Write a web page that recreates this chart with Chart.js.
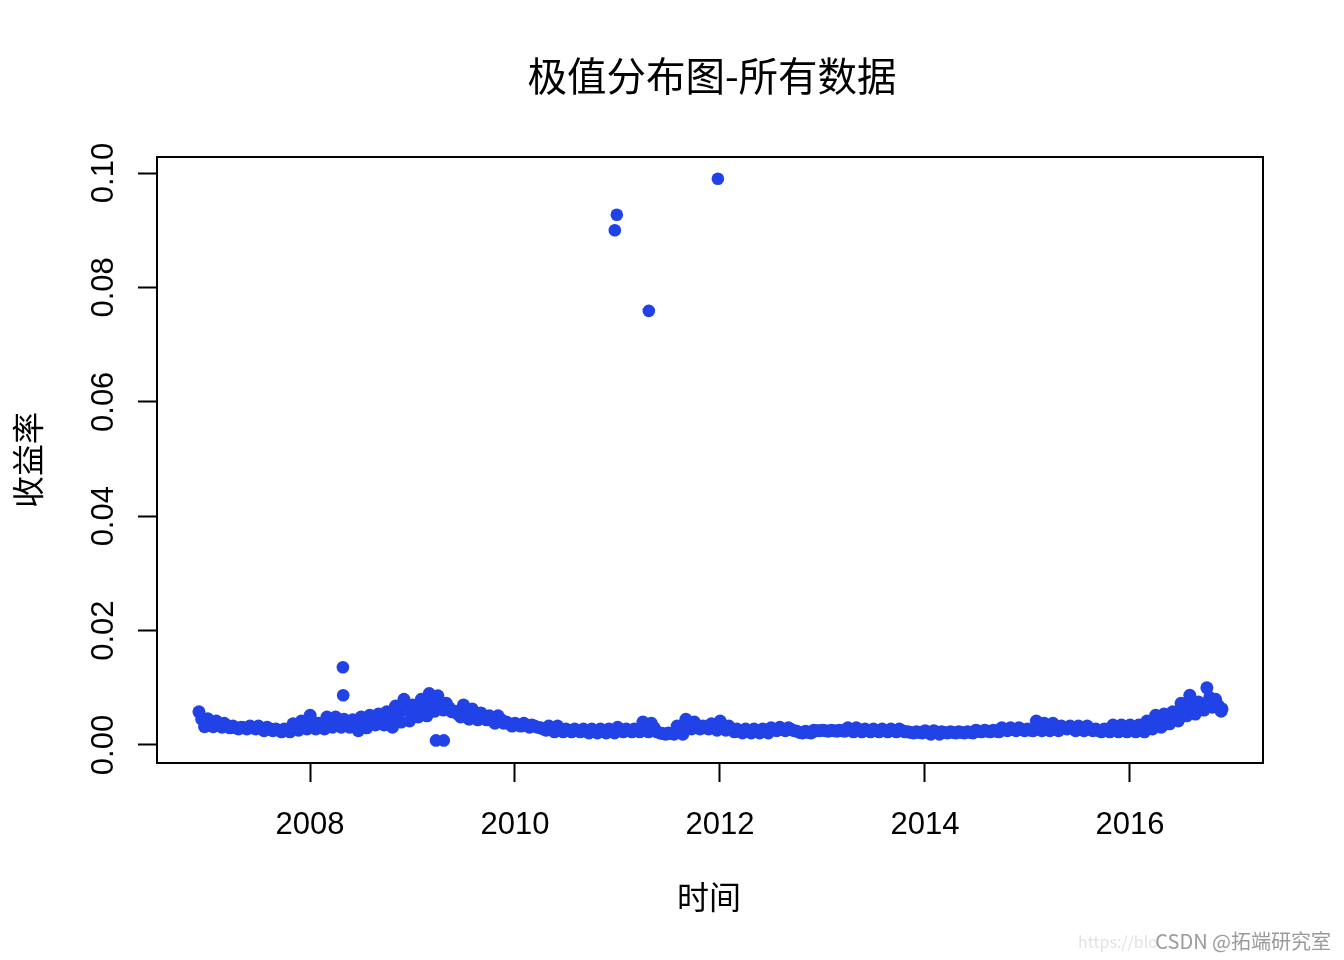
<!DOCTYPE html>
<html>
<head>
<meta charset="utf-8">
<script src="https://cdn.jsdelivr.net/npm/chart.js@4.4.1/dist/chart.umd.min.js"></script>
<style>
  html, body { margin: 0; padding: 0; background: #fff; }
  #wrap { width: 1344px; height: 960px; }
</style>
</head>
<body>
<div id="wrap"><canvas id="myChart" width="1344" height="960"></canvas></div>
<script>
/* Texts and axes */
const titleText = "极值分布图-所有数据";
const xTitle = "时间";
const yTitle = "收益率";
const xTicks = [2008, 2010, 2012, 2014, 2016];
const xTickLabels = ["2008", "2010", "2012", "2014", "2016"];
const yTicks = [0, 0.02, 0.04, 0.06, 0.08, 0.1];
const yTickLabels = ["0.00", "0.02", "0.04", "0.06", "0.08", "0.10"];

/* Monthly band readings, Dec 2006 .. Nov 2016 (top / centre / bottom of the dense band) */
const firstMonth = [2006, 12];
const bandTop = [
  0.0058, 0.0046, 0.0042, 0.0038, 0.0033, 0.0031, 0.0033, 0.0033, 0.0031, 0.0028, 0.0028, 0.0037,
  0.0042, 0.0052, 0.0038, 0.0049, 0.0049, 0.0045, 0.0044, 0.0049, 0.0052, 0.0054, 0.0058, 0.0068,
  0.0080, 0.0070, 0.0080, 0.0090, 0.0086, 0.0073, 0.0059, 0.0070, 0.0063, 0.0056, 0.0051, 0.0051,
  0.0040, 0.0038, 0.0038, 0.0035, 0.0030, 0.0033, 0.0033, 0.0028, 0.0028, 0.0028, 0.0028, 0.0028,
  0.0028, 0.0031, 0.0028, 0.0028, 0.0040, 0.0038, 0.0021, 0.0021, 0.0033, 0.0045, 0.0040, 0.0033,
  0.0037, 0.0042, 0.0033, 0.0028, 0.0028, 0.0028, 0.0028, 0.0030, 0.0031, 0.0030, 0.0024, 0.0024,
  0.0026, 0.0026, 0.0026, 0.0026, 0.0030, 0.0030, 0.0028, 0.0028, 0.0028, 0.0028, 0.0028, 0.0023,
  0.0023, 0.0025, 0.0025, 0.0023, 0.0023, 0.0023, 0.0023, 0.0026, 0.0026, 0.0026, 0.0030, 0.0030,
  0.0030, 0.0028, 0.0042, 0.0038, 0.0038, 0.0033, 0.0033, 0.0033, 0.0033, 0.0028, 0.0028, 0.0035,
  0.0035, 0.0035, 0.0035, 0.0042, 0.0052, 0.0054, 0.0058, 0.0073, 0.0087, 0.0075, 0.0100, 0.0080
];
const bandMid = [
  0.0045, 0.0039, 0.0036, 0.0034, 0.0030, 0.0030, 0.0030, 0.0029, 0.0028, 0.0026, 0.0026, 0.0031,
  0.0035, 0.0040, 0.0033, 0.0040, 0.0040, 0.0038, 0.0035, 0.0039, 0.0043, 0.0045, 0.0044, 0.0054,
  0.0061, 0.0060, 0.0065, 0.0074, 0.0073, 0.0065, 0.0054, 0.0057, 0.0053, 0.0050, 0.0045, 0.0045,
  0.0037, 0.0035, 0.0034, 0.0033, 0.0028, 0.0028, 0.0028, 0.0025, 0.0025, 0.0024, 0.0024, 0.0024,
  0.0024, 0.0027, 0.0025, 0.0025, 0.0030, 0.0030, 0.0020, 0.0020, 0.0026, 0.0036, 0.0034, 0.0030,
  0.0031, 0.0034, 0.0028, 0.0024, 0.0024, 0.0024, 0.0024, 0.0027, 0.0028, 0.0027, 0.0022, 0.0022,
  0.0025, 0.0025, 0.0025, 0.0025, 0.0026, 0.0026, 0.0025, 0.0025, 0.0025, 0.0025, 0.0025, 0.0022,
  0.0022, 0.0022, 0.0022, 0.0022, 0.0022, 0.0022, 0.0022, 0.0024, 0.0024, 0.0024, 0.0027, 0.0027,
  0.0027, 0.0026, 0.0032, 0.0031, 0.0031, 0.0030, 0.0029, 0.0029, 0.0029, 0.0025, 0.0025, 0.0028,
  0.0028, 0.0028, 0.0028, 0.0034, 0.0041, 0.0045, 0.0050, 0.0062, 0.0070, 0.0068, 0.0083, 0.0069
];
const bandLow = [
  0.0032, 0.0032, 0.0031, 0.0030, 0.0028, 0.0028, 0.0028, 0.0025, 0.0025, 0.0023, 0.0023, 0.0026,
  0.0028, 0.0028, 0.0028, 0.0031, 0.0031, 0.0031, 0.0025, 0.0030, 0.0035, 0.0035, 0.0031, 0.0040,
  0.0042, 0.0049, 0.0051, 0.0059, 0.0061, 0.0058, 0.0049, 0.0045, 0.0044, 0.0044, 0.0038, 0.0038,
  0.0033, 0.0033, 0.0031, 0.0031, 0.0026, 0.0023, 0.0023, 0.0023, 0.0023, 0.0021, 0.0021, 0.0021,
  0.0021, 0.0023, 0.0023, 0.0023, 0.0023, 0.0023, 0.0019, 0.0019, 0.0019, 0.0028, 0.0028, 0.0028,
  0.0026, 0.0026, 0.0023, 0.0021, 0.0021, 0.0021, 0.0021, 0.0025, 0.0025, 0.0025, 0.0021, 0.0021,
  0.0025, 0.0024, 0.0024, 0.0024, 0.0023, 0.0023, 0.0023, 0.0023, 0.0023, 0.0023, 0.0023, 0.0021,
  0.0021, 0.0019, 0.0019, 0.0021, 0.0021, 0.0021, 0.0021, 0.0023, 0.0023, 0.0023, 0.0025, 0.0025,
  0.0025, 0.0025, 0.0025, 0.0025, 0.0025, 0.0028, 0.0025, 0.0025, 0.0025, 0.0023, 0.0023, 0.0023,
  0.0023, 0.0023, 0.0023, 0.0028, 0.0031, 0.0037, 0.0042, 0.0051, 0.0054, 0.0061, 0.0066, 0.0059
];
const tailDates = ["2016-11-24"];
const tailValues = [0.0063];

/* Isolated extreme points */
const outlierDates = ["2008-04-27", "2008-04-28", "2009-03-25", "2009-04-22",
                      "2010-12-22", "2010-12-29", "2011-04-22", "2011-12-24"];
const outlierValues = [0.0136, 0.0087, 0.0008, 0.0008, 0.0900, 0.0927, 0.0759, 0.0990];

const dotColor = "#2142e6";

/* date -> decimal year */
const toYear = (y, m, d) => {
  const t0 = Date.UTC(y, 0, 1);
  const t1 = Date.UTC(y + 1, 0, 1);
  return y + (Date.UTC(y, m - 1, d) - t0 + 43200000) / (t1 - t0);
};
const parseDate = (s) => {
  const p = s.split("-").map(Number);
  return toYear(p[0], p[1], p[2]);
};

const points = [];
bandTop.forEach((v, i) => {
  const mm = firstMonth[1] - 1 + i;
  const y = firstMonth[0] + Math.floor(mm / 12);
  const m = (mm % 12) + 1;
  points.push({ x: toYear(y, m, 1), y: v });
  points.push({ x: toYear(y, m, 11), y: bandMid[i] });
  points.push({ x: toYear(y, m, 21), y: bandLow[i] });
});
tailDates.forEach((d, i) => points.push({ x: parseDate(d), y: tailValues[i] }));
const extremes = outlierDates.map((d, i) => ({ x: parseDate(d), y: outlierValues[i] }));

/* Frame, title and labels drawn like R base graphics */
const frame = {
  id: "frame",
  afterDraw(chart) {
    const { ctx, chartArea: a, scales } = chart;
    ctx.save();
    ctx.strokeStyle = "#000";
    ctx.lineWidth = 2;
    ctx.strokeRect(a.left, a.top, a.right - a.left, a.bottom - a.top);

    ctx.fillStyle = "#000";
    ctx.textAlign = "center";
    ctx.textBaseline = "middle";
    ctx.font = '39.5px "Noto Sans CJK SC"';
    ctx.fillText(titleText, 712, 76);

    ctx.font = '32px "Noto Sans CJK SC"';
    ctx.fillText(xTitle, 709, 897);
    ctx.save();
    ctx.translate(28, 460);
    ctx.rotate(-Math.PI / 2);
    ctx.fillText(yTitle, 0, 0);
    ctx.restore();

    ctx.font = '31px "Liberation Sans", Arial, sans-serif';
    ctx.textBaseline = "alphabetic";
    xTicks.forEach((v, i) => {
      ctx.fillText(xTickLabels[i], scales.x.getPixelForValue(v), 834);
    });
    yTicks.forEach((v, i) => {
      ctx.save();
      ctx.translate(113, scales.y.getPixelForValue(v));
      ctx.rotate(-Math.PI / 2);
      ctx.fillText(yTickLabels[i], 0, 0);
      ctx.restore();
    });

    ctx.textAlign = "right";
    ctx.font = '16px "Noto Sans CJK SC"';
    ctx.fillStyle = "#e2e2e2";
    ctx.fillText("https://blo", 1158, 948);
    ctx.font = '20px "Noto Sans CJK SC"';
    ctx.fillStyle = "#9a9a9a";
    ctx.fillText("CSDN @拓端研究室", 1331, 949);
    ctx.restore();
  },
};

const axisGrid = {
  drawOnChartArea: false,
  drawTicks: true,
  tickLength: 19,
  tickWidth: 2,
  tickColor: "#000",
  color: "#000",
};

new Chart(document.getElementById("myChart"), {
  type: "scatter",
  data: {
    datasets: [
      { data: points, backgroundColor: dotColor, borderWidth: 0, pointRadius: 6.5, pointHoverRadius: 6.5 },
      { data: extremes, backgroundColor: dotColor, borderWidth: 0, pointRadius: 6.3, pointHoverRadius: 6.3 },
    ],
  },
  options: {
    responsive: false,
    animation: false,
    devicePixelRatio: 1,
    layout: { padding: { left: 0, top: 157, right: 81, bottom: 0 } },
    scales: {
      x: {
        type: "linear",
        min: 2006.5073,
        max: 2017.2976,
        grid: axisGrid,
        border: { display: true, color: "#000", width: 2 },
        ticks: { display: false },
        afterBuildTicks: (s) => { s.ticks = xTicks.map((v) => ({ value: v })); },
        afterFit: (s) => { s.height = 197; },
      },
      y: {
        type: "linear",
        min: -0.003147,
        max: 0.1028,
        grid: axisGrid,
        border: { display: true, color: "#000", width: 2 },
        ticks: { display: false },
        afterBuildTicks: (s) => { s.ticks = yTicks.map((v) => ({ value: v })); },
        afterFit: (s) => { s.width = 157; },
      },
    },
    plugins: {
      legend: { display: false },
      tooltip: { enabled: false },
    },
  },
  plugins: [frame],
});
</script>
</body>
</html>
